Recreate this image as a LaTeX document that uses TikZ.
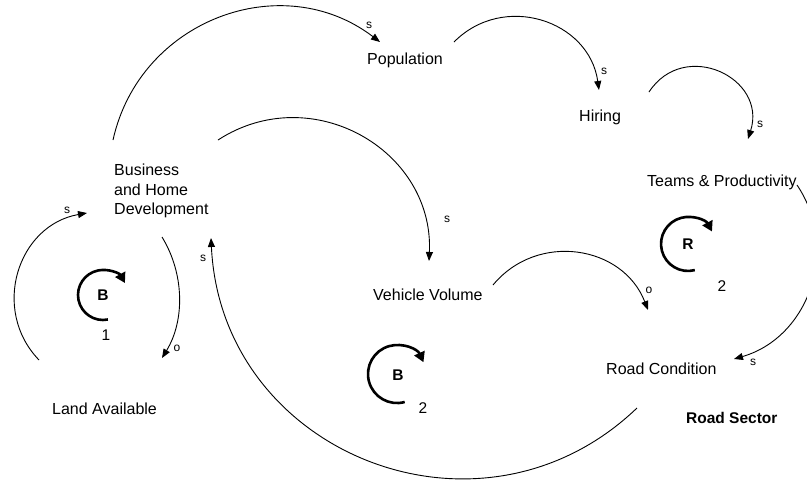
\documentclass[tikz,border=0pt]{standalone}
\usepackage{fontspec}
\setmainfont{Liberation Sans}
\usetikzlibrary{arrows.meta}
\begin{document}
\begin{tikzpicture}[x=1pt,y=-1pt,
  lbl/.style={inner sep=0pt, font=\fontsize{16}{19.5}\selectfont},
  sect/.style={inner sep=0pt, font=\bfseries\fontsize{15.5}{18}\selectfont},
  pol/.style={inner sep=0pt, font=\fontsize{12}{14}\selectfont},
  conn/.style={line width=0.9pt, -{Triangle[length=9pt,width=7pt]}},
  loopar/.style={line width=2.6pt, -{Triangle[length=10pt,width=11pt]}},
  loopltr/.style={inner sep=0pt, font=\bfseries\fontsize{15.5}{18}\selectfont},
  loopnum/.style={inner sep=0pt, font=\fontsize{15.5}{18}\selectfont}]
\useasboundingbox (0,0) rectangle (807,480);
\fill[white] (0,0) rectangle (807,480);

% variables
\node[lbl, anchor=base west] (pop) at (367,64) {Population};
\node[lbl, anchor=base west] (hir) at (579,121) {Hiring};
\node[lbl, anchor=base west] (tp) at (647,186) {Teams \& Productivity};
\node[lbl, anchor=north west, align=left] (bhd) at (114,164) {Business\\and Home\\Development};
\node[lbl, anchor=base west] (vv) at (373,300) {Vehicle Volume};
\node[lbl, anchor=base west] (rc) at (606,374) {Road Condition};
\node[lbl, anchor=base west] (la) at (52,414) {Land Available};
\node[sect, anchor=base west] (rs) at (686,423) {Road Sector};

% connector end points
\coordinate (a1s) at (113,140); \coordinate (a1e) at (380,42);
\coordinate (a2s) at (454,42);  \coordinate (a2e) at (599,90);
\coordinate (a3s) at (649,92);  \coordinate (a3e) at (748,139);
\coordinate (a4s) at (797,185); \coordinate (a4e) at (734,359);
\coordinate (a5s) at (493,285); \coordinate (a5e) at (648,310);
\coordinate (a6s) at (218,140); \coordinate (a6e) at (429,261);
\coordinate (a7s) at (637,408); \coordinate (a7e) at (211,238);
\coordinate (a8s) at (162,237); \coordinate (a8e) at (162,358);
\coordinate (a9s) at (39,360);  \coordinate (a9e) at (87,213);

% connectors
\draw[conn] (a1s) .. controls (139.7,19.7) and (282.0,-32.7) .. (a1e);
\draw[conn] (a2s) .. controls (503.6,-8.0) and (589.1,20.3) .. (a2e);
\draw[conn] (a3s) .. controls (684.2,38.2) and (767.4,77.7) .. (a3e);
\draw[conn] (a4s) .. controls (840.4,249.3) and (808.5,337.4) .. (a4e);
\draw[conn] (a5s) .. controls (537.3,231.5) and (622.8,245.2) .. (a5e);
\draw[conn] (a6s) .. controls (311.3,79.4) and (434.1,149.8) .. (a6e);
\draw[conn] (a7s) .. controls (480.7,557.8) and (221.2,454.3) .. (a7e);
\draw[conn] (a8s) .. controls (184.7,274.1) and (184.7,320.9) .. (a8e);
\draw[conn] (a9s) .. controls (-9.6,309.5) and (17.9,225.1) .. (a9e);

% polarity labels
\node[pol] (p1) at (369,25) {s};
\node[pol] (p2) at (604,71) {s};
\node[pol] (p3) at (760,124) {s};
\node[pol] (p4) at (753,362) {s};
\node[pol] (p5) at (649,290) {o};
\node[pol] (p6) at (447,219) {s};
\node[pol] (p7) at (203,258) {s};
\node[pol] (p8) at (177,348) {o};
\node[pol] (p9) at (67,210) {s};

% loop markers
\draw[loopar] (107.9,319.5) arc[start angle=78.7, end angle=331.4, radius=25];
\node[loopltr] (lb1) at (103,295) {B};
\node[loopnum] (ln1) at (106,335) {1};
\draw[loopar] (404.7,402) arc[start angle=74.6, end angle=335.9, radius=29];
\node[loopltr] (lb2) at (398,375) {B};
\node[loopnum] (ln2) at (423,408) {2};
\draw[loopar] (694.8,270.1) arc[start angle=75.5, end angle=332.5, radius=27];
\node[loopltr] (lr2) at (688,244) {R};
\node[loopnum] (ln3) at (722,286) {2};
\end{tikzpicture}
\end{document}
